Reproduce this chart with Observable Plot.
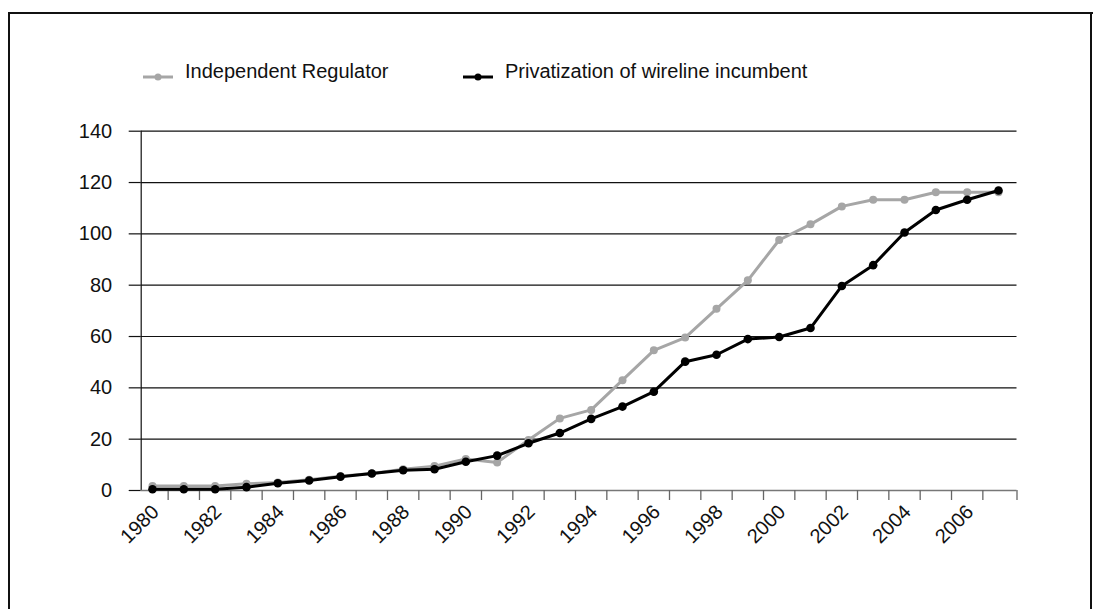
<!DOCTYPE html>
<html>
<head>
<meta charset="utf-8">
<script src="https://cdn.jsdelivr.net/npm/d3@7"></script>
<script src="https://cdn.jsdelivr.net/npm/@observablehq/plot@0.6"></script>
<style>
  html, body { margin: 0; padding: 0; background: #fff; width: 1093px; height: 609px; overflow: hidden; }
  body { position: relative; font-family: "Liberation Sans", Arial, Helvetica, sans-serif; color: #111; }
  #frame { position: absolute; left: 8px; top: 12px; width: 1200px; height: 700px; border: 2.5px solid #111; box-sizing: border-box; pointer-events: none; }
  #frame2 { position: absolute; left: 1089.5px; top: 12px; width: 2.5px; height: 700px; background: #111; }
  .leg { position: absolute; font-size: 20px; line-height: 24px; white-space: nowrap; }
  .legsym { position: absolute; }
  #chart { position: absolute; left: 0; top: 110px; }
</style>
</head>
<body>
<div id="frame"></div>
<div id="frame2"></div>
<div id="legend"></div>
<div id="chart"></div>
<script>
// ---- data ----
const years = [1980, 1981, 1982, 1983, 1984, 1985, 1986, 1987, 1988, 1989,
               1990, 1991, 1992, 1993, 1994, 1995, 1996, 1997, 1998, 1999,
               2000, 2001, 2002, 2003, 2004, 2005, 2006, 2007];
const regulator = [1.8, 1.8, 1.8, 2.6, 3.1, 4.2, 5.6, 6.6, 8.3, 9.5,
                   12.3, 10.9, 19.7, 28.1, 31.4, 43.0, 54.6, 59.6, 70.8, 81.9,
                   97.6, 103.7, 110.7, 113.3, 113.3, 116.2, 116.2, 116.2];
const privatization = [0.5, 0.5, 0.5, 1.3, 2.8, 3.9, 5.4, 6.6, 7.9, 8.3,
                       11.2, 13.6, 18.4, 22.4, 27.9, 32.7, 38.5, 50.2, 52.9, 59.0,
                       59.8, 63.3, 79.7, 87.8, 100.5, 109.3, 113.3, 116.9];
const seriesNames = ["Independent Regulator", "Privatization of wireline incumbent"];
const seriesColors = ["#a6a6a6", "#000000"];
const yTicks = [0, 20, 40, 60, 80, 100, 120, 140];
const labelYears = [1980, 1982, 1984, 1986, 1988, 1990, 1992, 1994, 1996, 1998, 2000, 2002, 2004, 2006];

// ---- build table ----
const rows = [];
years.forEach((yr, i) => {
  rows.push({year: yr, value: regulator[i], series: seriesNames[0]});
});
years.forEach((yr, i) => {
  rows.push({year: yr, value: privatization[i], series: seriesNames[1]});
});
const regRows = rows.filter(d => d.series === seriesNames[0]);
const privRows = rows.filter(d => d.series === seriesNames[1]);

const xDomain = [years[0] - 0.36, years[years.length - 1] + 0.59];
const tickMarks = years.slice(0, -1).map(y => y + 0.5).concat([xDomain[1]]);

const chart = Plot.plot({
  width: 1093,
  height: 499,
  marginLeft: 140.7,
  marginRight: 76.5,
  marginTop: 20.7,
  marginBottom: 119,
  x: {domain: xDomain},
  y: {domain: [0, 140]},
  style: {fontFamily: "'Liberation Sans', Arial, Helvetica, sans-serif", fontSize: "20px", color: "#111", background: "transparent", overflow: "visible"},
  marks: [
    Plot.ruleY(yTicks.filter(v => v > 0), {y: d => d, stroke: "#111", strokeWidth: 1.2}),
    Plot.axisY({ticks: yTicks, tickSize: 12, tickPadding: 17, label: null, stroke: "#111", strokeWidth: 1.2, fontSize: 20}),
    Plot.ruleX([xDomain[0]], {x: d => d, stroke: "#111", strokeWidth: 1.2}),
    Plot.ruleY([0], {y: d => d, stroke: "#777", strokeWidth: 1.5}),
    Plot.axisX({ticks: tickMarks, tickSize: 10, tickFormat: () => "", label: null, stroke: "#666", strokeWidth: 1.3}),
    Plot.text(labelYears, {x: d => d, y: () => 0, text: d => String(d), rotate: -45, textAnchor: "end", lineAnchor: "middle", dx: 3, dy: 18, fontSize: 20, fill: "#111"}),
    Plot.line(regRows, {x: "year", y: "value", stroke: seriesColors[0], strokeWidth: 3}),
    Plot.dot(regRows, {x: "year", y: "value", fill: seriesColors[0], r: 4}),
    Plot.line(privRows, {x: "year", y: "value", stroke: seriesColors[1], strokeWidth: 3}),
    Plot.dot(privRows, {x: "year", y: "value", fill: seriesColors[1], r: 4.3})
  ]
});
document.getElementById("chart").appendChild(chart);

// ---- legend ----
const legend = document.getElementById("legend");
const legendItems = [
  {symX: 143, textX: 185},
  {symX: 463, textX: 505}
];
seriesNames.forEach((name, i) => {
  const sym = document.createElement("div");
  sym.className = "legsym";
  sym.style.left = legendItems[i].symX + "px";
  sym.style.top = "67.7px";
  sym.innerHTML = `<svg width="30" height="10"><line x1="0" x2="30" y1="5" y2="5" stroke="${seriesColors[i]}" stroke-width="3"/><circle cx="15" cy="5" r="3.5" fill="${seriesColors[i]}"/></svg>`;
  legend.appendChild(sym);
  const t = document.createElement("div");
  t.className = "leg";
  t.style.left = legendItems[i].textX + "px";
  t.style.top = "59.3px";
  t.textContent = name;
  legend.appendChild(t);
});
</script>
</body>
</html>
